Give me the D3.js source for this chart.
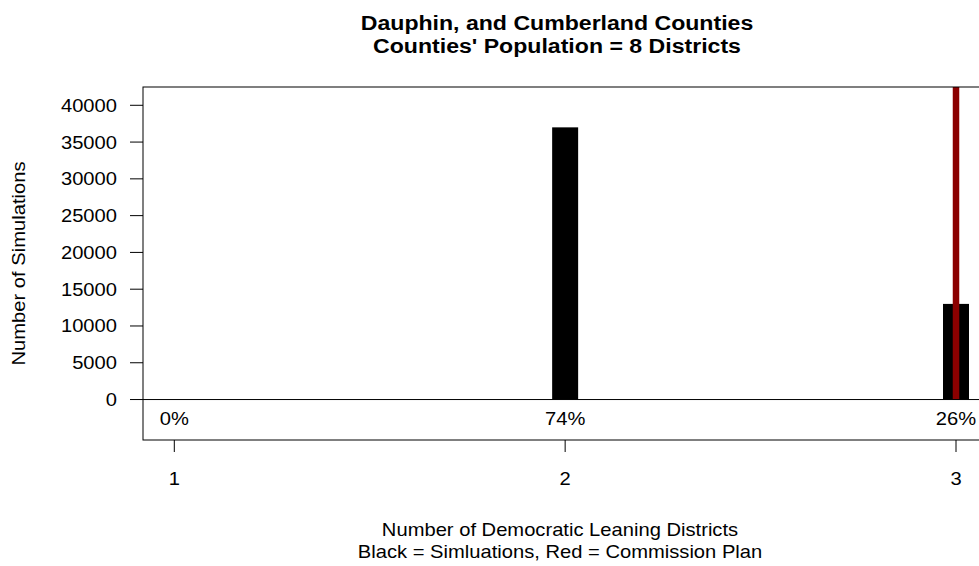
<!DOCTYPE html>
<html>
<head>
<meta charset="utf-8">
<script src="https://cdn.jsdelivr.net/npm/d3@7"></script>
<style>
  html, body { margin: 0; padding: 0; background: #fff; }
  svg { display: block; }
  text { font-family: "Liberation Sans", Arial, Helvetica, sans-serif; fill: #000; }
</style>
</head>
<body>
<svg id="chart" width="979" height="566"></svg>
<script>
// ---- data ----
const districts = [1, 2, 3];
const simCounts = [0, 37000, 13000];
const pctLabels = ["0%", "74%", "26%"];
const commissionPlan = 3;
const yTickValues = [0, 5000, 10000, 15000, 20000, 25000, 30000, 35000, 40000];
const xTickValues = [1, 2, 3];
const titleLines = ["Dauphin, and Cumberland Counties", "Counties' Population = 8 Districts"];
const xLabelLines = ["Number of Democratic Leaning Districts", "Black = Simluations, Red = Commission Plan"];
const yLabel = "Number of Simulations";

// ---- layout ----
const W = 979, H = 566;
const plot = { left: 143, top: 87, right: 1000, bottom: 440 };
const svg = d3.select("#chart");

const x = d3.scaleLinear().domain([1, 3]).range([174.3, 956]);
const y = d3.scaleLinear().domain([-5501, 42486]).range([plot.bottom, plot.top]);
const barW = 0.0665; // in data units
const SX = 1.12;

function txt(g, s, px, py, opts) {
  const o = Object.assign({ size: 18, anchor: "middle", weight: "normal", rotate: 0, sx: SX }, opts || {});
  return g.append("text")
    .attr("transform", `translate(${px},${py}) rotate(${o.rotate}) scale(${o.sx},1)`)
    .attr("text-anchor", o.anchor)
    .attr("font-size", o.size)
    .attr("font-weight", o.weight)
    .text(s);
}

// clip for plot region
svg.append("defs").append("clipPath").attr("id", "clip")
  .append("rect").attr("x", plot.left).attr("y", plot.top)
  .attr("width", plot.right - plot.left).attr("height", plot.bottom - plot.top);

const gPlot = svg.append("g").attr("clip-path", "url(#clip)");

// bars
gPlot.selectAll("rect.bar").data(districts.map((d, i) => ({ d, v: simCounts[i] })).filter(e => e.v > 0))
  .enter().append("rect").attr("class", "bar")
  .attr("x", e => x(e.d - barW / 2))
  .attr("width", e => x(e.d + barW / 2) - x(e.d - barW / 2))
  .attr("y", e => y(e.v))
  .attr("height", e => y(0) - y(e.v))
  .attr("fill", "#000");

// commission plan line
gPlot.append("line")
  .attr("x1", x(commissionPlan)).attr("x2", x(commissionPlan))
  .attr("y1", y(0)).attr("y2", y(y.domain()[1]) - 5)
  .attr("stroke", "#8B0000").attr("stroke-width", 6.5);

// zero line
gPlot.append("line")
  .attr("x1", plot.left).attr("x2", plot.right)
  .attr("y1", y(0)).attr("y2", y(0))
  .attr("stroke", "#000").attr("stroke-width", 1);

// percent labels
districts.forEach((d, i) => txt(svg, pctLabels[i], x(d), 425, { size: 18 }));

// box
svg.append("rect")
  .attr("x", plot.left).attr("y", plot.top)
  .attr("width", plot.right - plot.left).attr("height", plot.bottom - plot.top)
  .attr("fill", "none").attr("stroke", "#000").attr("stroke-width", 1);

// y axis ticks
yTickValues.forEach(v => {
  svg.append("line").attr("x1", plot.left - 13).attr("x2", plot.left)
    .attr("y1", y(v)).attr("y2", y(v)).attr("stroke", "#000");
  txt(svg, String(v), 117, y(v) + 6.5, { anchor: "end" });
});

// x axis ticks
xTickValues.forEach(v => {
  svg.append("line").attr("x1", x(v)).attr("x2", x(v))
    .attr("y1", plot.bottom).attr("y2", plot.bottom + 12).attr("stroke", "#000");
  txt(svg, String(v), x(v), 485);
});

// titles
txt(svg, titleLines[0], 557, 30, { size: 21, weight: "bold", sx: 1.1 });
txt(svg, titleLines[1], 557, 52.7, { size: 21, weight: "bold", sx: 1.1 });

// x label
txt(svg, xLabelLines[0], 560, 535.7);
txt(svg, xLabelLines[1], 560, 558.3);

// y label
txt(svg, yLabel, 25, 263.5, { rotate: -90 });
</script>
</body>
</html>
